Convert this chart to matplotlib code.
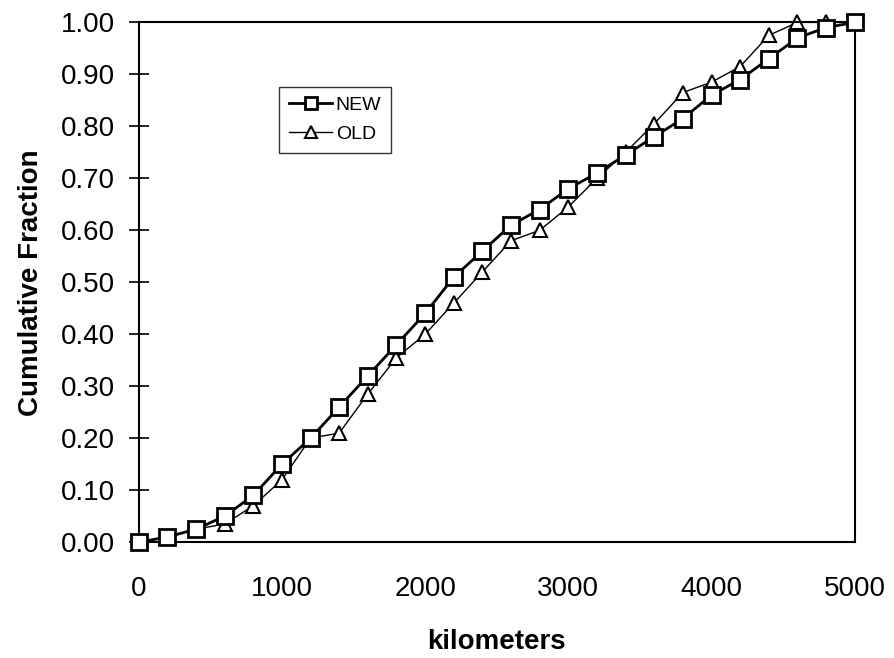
import numpy as np
import matplotlib.pyplot as plt

plt.rcParams['font.family'] = ['Liberation Sans', 'DejaVu Sans']

km = [0, 200, 400, 600, 800, 1000, 1200, 1400, 1600, 1800, 2000, 2200, 2400,
      2600, 2800, 3000, 3200, 3400, 3600, 3800, 4000, 4200, 4400, 4600, 4800, 5000]
new_frac = [0.00, 0.01, 0.025, 0.05, 0.09, 0.15, 0.20, 0.26, 0.32, 0.38, 0.44, 0.51, 0.56,
            0.61, 0.64, 0.68, 0.71, 0.745, 0.78, 0.815, 0.86, 0.89, 0.93, 0.97, 0.99, 1.00]
old_frac = [0.00, 0.01, 0.025, 0.035, 0.07, 0.12, 0.20, 0.21, 0.285, 0.355, 0.40, 0.46, 0.52,
            0.58, 0.60, 0.645, 0.70, 0.75, 0.805, 0.865, 0.885, 0.915, 0.975, 1.00, 1.00, 1.00]
y_ticks = [0.0, 0.1, 0.2, 0.3, 0.4, 0.5, 0.6, 0.7, 0.8, 0.9, 1.0]
x_ticks = [0, 1000, 2000, 3000, 4000, 5000]

fig = plt.figure(figsize=(8.95, 6.58), dpi=100)
ax = fig.add_axes([0.155, 0.176, 0.800, 0.790])

ax.plot(km, new_frac, color='black', lw=2.0, marker='s', ms=11, mfc='white',
        mec='black', mew=2.0, label='NEW', clip_on=False, zorder=3)
ax.plot(km, old_frac, color='black', lw=1.0, marker='^', ms=10, mfc='white',
        mec='black', mew=1.5, label='OLD', clip_on=False, zorder=2)

ax.set_xlim(0, 5000)
ax.set_ylim(0, 1.0)
ax.set_xticks(x_ticks)
ax.set_yticks(y_ticks)
ax.set_yticklabels(['%.2f' % v for v in y_ticks])
ax.tick_params(axis='y', direction='inout', length=14, width=1.2, labelsize=20, pad=10)
ax.tick_params(axis='x', length=0, labelsize=20, pad=24)

for s in ax.spines.values():
    s.set_linewidth(1.5)

ax.set_xlabel('kilometers', fontsize=20, fontweight='bold', labelpad=20)
ax.set_ylabel('Cumulative Fraction', fontsize=20, fontweight='bold', labelpad=12)

leg = ax.legend(loc='upper left', bbox_to_anchor=(0.183, 0.895), fontsize=14,
                frameon=True, fancybox=False, handlelength=2.2, borderpad=0.5,
                labelspacing=0.6, handletextpad=0.2, markerscale=0.8)
leg.get_frame().set_edgecolor('black')
leg.get_frame().set_linewidth(1.0)

fig.savefig('out.png', dpi=100)
